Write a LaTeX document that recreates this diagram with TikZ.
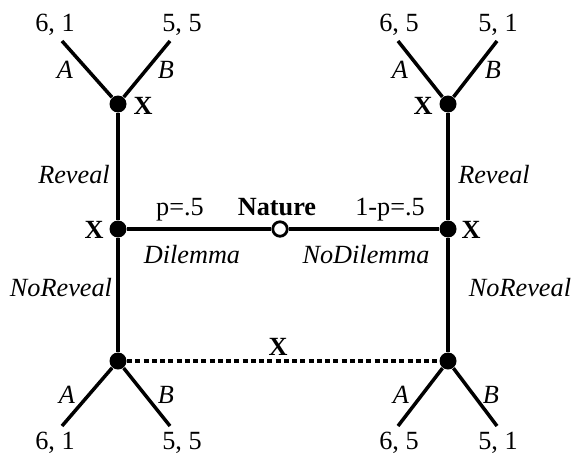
\documentclass[tikz,border=0pt]{standalone}
\usepackage{fontspec}
\setmainfont{Liberation Serif}
\usetikzlibrary{positioning}

\begin{document}
\begin{tikzpicture}[x=0.4pt,y=-0.4pt,
    every node/.style={font=\fontsize{10.5}{12}\selectfont},
    dec/.style={circle,fill,inner sep=0pt,minimum size=6.8pt},
    chance/.style={circle,draw,fill=white,line width=1.1pt,inner sep=0pt,minimum size=5.8pt},
    branch/.style={line width=1.4pt},
    info/.style={line width=1.8pt,dash pattern=on 2pt off 1.3pt},
    player/.style={font=\fontsize{10.5}{12}\selectfont\bfseries},
    act/.style={font=\fontsize{10.5}{12}\selectfont\itshape}]
    \useasboundingbox (0,0) rectangle (573,453);

    % Decision nodes and Nature
    \node[chance] (nature) at (280,229) {};
    \node[dec] (dl) at (118,229) {};
    \node[dec] (dr) at (448,229) {};
    \node[dec] (tl) at (118,104) {};
    \node[dec] (tr) at (448,104) {};
    \node[dec] (bl) at (118,361) {};
    \node[dec] (br) at (448,361) {};

    % Terminal points
    \coordinate (tlA) at (62,41);
    \coordinate (tlB) at (170,41);
    \coordinate (trA) at (398,41);
    \coordinate (trB) at (497,41);
    \coordinate (blA) at (62,426);
    \coordinate (blB) at (170,426);
    \coordinate (brA) at (398,426);
    \coordinate (brB) at (497,426);

    % Draw the branches
    \draw[branch] (nature) -- (dl);
    \draw[branch] (nature) -- (dr);
    \draw[branch] (dl) -- (tl);
    \draw[branch] (dl) -- (bl);
    \draw[branch] (dr) -- (tr);
    \draw[branch] (dr) -- (br);
    \draw[branch] (tl) -- (tlA);
    \draw[branch] (tl) -- (tlB);
    \draw[branch] (tr) -- (trA);
    \draw[branch] (tr) -- (trB);
    \draw[branch] (bl) -- (blA);
    \draw[branch] (bl) -- (blB);
    \draw[branch] (br) -- (brA);
    \draw[branch] (br) -- (brB);

    % Information set
    \draw[info] (bl) -- (br);

    % Payoffs
    \node (p1) at (55,25) {6, 1};
    \node (p2) at (182,25) {5, 5};
    \node (p3) at (399,25) {6, 5};
    \node (p4) at (498,25) {5, 1};
    \node (p5) at (55,443) {6, 1};
    \node (p6) at (182,443) {5, 5};
    \node (p7) at (399,443) {6, 5};
    \node (p8) at (498,443) {5, 1};

    % Actions
    \node[act] (a1) at (65,70) {A};
    \node[act] (b1) at (166,70) {B};
    \node[act] (a2) at (400,70) {A};
    \node[act] (b2) at (493,70) {B};
    \node[act] (a3) at (67,395) {A};
    \node[act] (b3) at (166,395) {B};
    \node[act] (a4) at (401,395) {A};
    \node[act] (b4) at (491,395) {B};
    \node[act] (rl) at (74,175) {Reveal};
    \node[act] (rr) at (494,175) {Reveal};
    \node[act] (nl) at (61,288) {NoReveal};
    \node[act] (nr) at (520,288) {NoReveal};
    \node[act] (dil) at (192,255) {Dilemma};
    \node[act] (ndil) at (366,255) {NoDilemma};

    % Probabilities
    \node (pl) at (180,210) {p=.5};
    \node (pr) at (390,210) {1-p=.5};

    % Players
    \node[player] (nat) at (277,207) {Nature};
    \node[player] (x1) at (143,106) {X};
    \node[player] (x2) at (423,106) {X};
    \node[player] (x3) at (94,230) {X};
    \node[player] (x4) at (471,230) {X};
    \node[player] (x5) at (278,347) {X};
\end{tikzpicture}
\end{document}
